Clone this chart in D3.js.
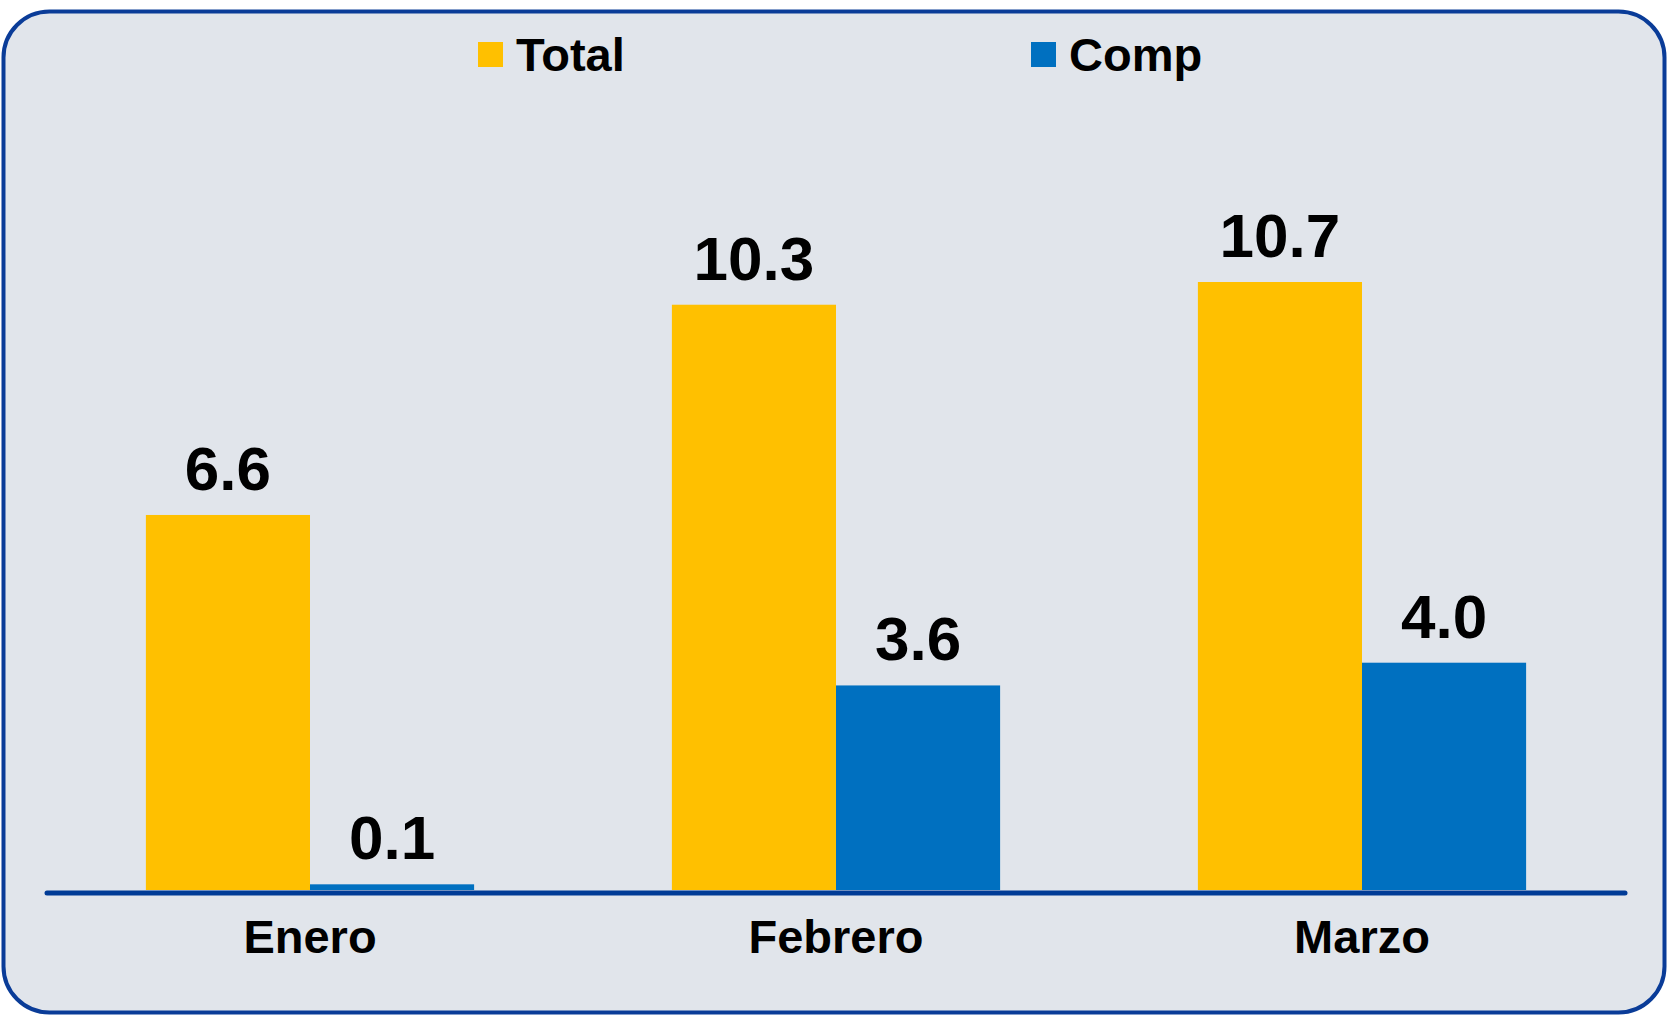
<!DOCTYPE html>
<html>
<head>
<meta charset="utf-8">
<script src="https://d3js.org/d3.v7.min.js"></script>
<style>
    body { margin: 0; background: #ffffff; }
    svg { display: block; font-family: "Liberation Sans", Arial, sans-serif; }
</style>
</head>
<body>
<div id="chart"></div>
<script>
var categories = ["Enero", "Febrero", "Marzo"]
var seriesNames = ["Total", "Comp"]
var totalValues = [6.6, 10.3, 10.7]
var compValues = [0.1, 3.6, 4.0]
var colors = ["#FFC000", "#0070C0"]

var width = 1671,
    height = 1016

var data = categories.map(function (c, i) {
    return { cat: c, values: [totalValues[i], compValues[i]] }
})

var svg = d3.select("#chart")
    .append("svg")
    .attr("width", width)
    .attr("height", height)

// frame
svg.append("rect")
    .attr("x", 3.5)
    .attr("y", 11.5)
    .attr("width", 1661)
    .attr("height", 1001)
    .attr("rx", 46)
    .attr("ry", 46)
    .attr("fill", "#E1E5EB")
    .attr("stroke", "#0A3C98")
    .attr("stroke-width", 4)

var x0 = d3.scaleBand()
    .domain(categories)
    .range([47, 1625])
    .paddingInner(0.376)
    .paddingOuter(0.188)

var x1 = d3.scaleBand()
    .domain(seriesNames)
    .range([0, x0.bandwidth()])

var y = d3.scaleLinear()
    .domain([0, 10.7])
    .range([890, 282])

var groups = svg.selectAll("g.cat")
    .data(data)
    .enter()
    .append("g")
    .attr("class", "cat")
    .attr("transform", function (d) { return "translate(" + x0(d.cat) + ",0)" })

groups.selectAll("rect")
    .data(function (d) { return d.values })
    .enter()
    .append("rect")
    .attr("x", function (d, i) { return x1(seriesNames[i]) })
    .attr("width", x1.bandwidth())
    .attr("y", function (d) { return y(d) })
    .attr("height", function (d) { return y(0) - y(d) })
    .attr("fill", function (d, i) { return colors[i] })

groups.selectAll("text.val")
    .data(function (d) { return d.values })
    .enter()
    .append("text")
    .attr("class", "val")
    .attr("x", function (d, i) { return x1(seriesNames[i]) + x1.bandwidth() / 2 })
    .attr("y", function (d) { return y(d) - 25 })
    .attr("text-anchor", "middle")
    .attr("font-size", 62)
    .attr("font-weight", "bold")
    .attr("fill", "#000")
    .text(function (d) { return d3.format(".1f")(d) })

// baseline
svg.append("line")
    .attr("x1", 47)
    .attr("x2", 1625)
    .attr("y1", y(0) + 3)
    .attr("y2", y(0) + 3)
    .attr("stroke", "#003B96")
    .attr("stroke-width", 5)
    .attr("stroke-linecap", "round")

// category labels
svg.selectAll("text.cat")
    .data(categories)
    .enter()
    .append("text")
    .attr("class", "cat")
    .attr("x", function (d) { return x0(d) + x0.bandwidth() / 2 })
    .attr("y", 953)
    .attr("text-anchor", "middle")
    .attr("font-size", 47)
    .attr("font-weight", "bold")
    .attr("fill", "#000")
    .text(function (d) { return d })

// legend
var legendX = [478, 1031]
var legend = svg.selectAll("g.legend")
    .data(seriesNames)
    .enter()
    .append("g")
    .attr("class", "legend")
    .attr("transform", function (d, i) { return "translate(" + legendX[i] + ",0)" })

legend.append("rect")
    .attr("x", 0)
    .attr("y", 42)
    .attr("width", 25)
    .attr("height", 25)
    .attr("fill", function (d, i) { return colors[i] })

legend.append("text")
    .attr("x", 38)
    .attr("y", 71)
    .attr("font-size", 47)
    .attr("font-weight", "bold")
    .attr("fill", "#000")
    .text(function (d) { return d })
</script>
</body>
</html>
